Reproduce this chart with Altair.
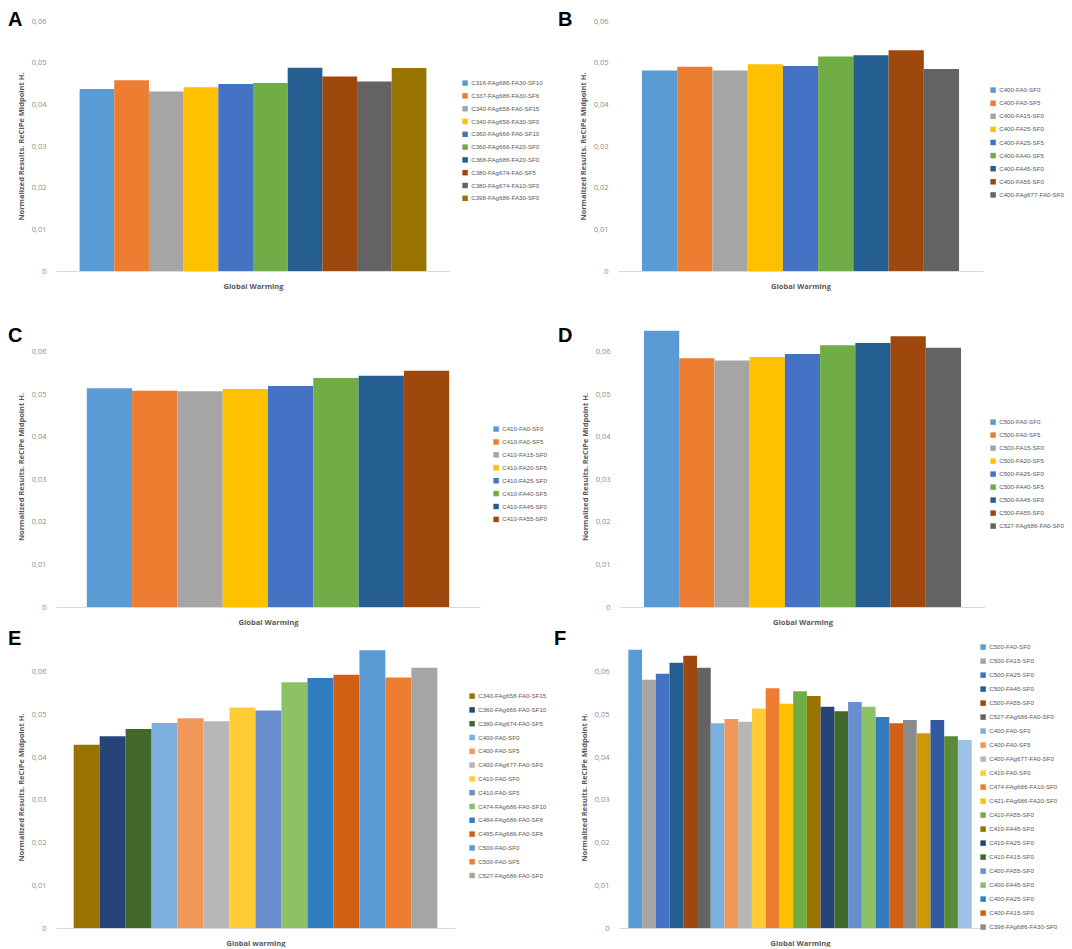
import altair as alt
import pandas as pd

# ---------------- data ----------------
A_names = ["C316-FAg686-FA30-SF10", "C337-FAg686-FA30-SF6", "C340-FAg658-FA0-SF15",
           "C340-FAg658-FA30-SF0", "C360-FAg666-FA0-SF10", "C360-FAg666-FA20-SF0",
           "C368-FAg686-FA20-SF0", "C380-FAg674-FA0-SF5", "C380-FAg674-FA10-SF0",
           "C398-FAg686-FA30-SF0"]
A_vals = [0.0437, 0.0458, 0.0431, 0.0441, 0.0449, 0.0451, 0.0488, 0.0467, 0.0455, 0.0487]

B_names = ["C400-FA0-SF0", "C400-FA0-SF5", "C400-FA15-SF0", "C400-FA25-SF0", "C400-FA25-SF5",
           "C400-FA40-SF5", "C400-FA45-SF0", "C400-FA55-SF0", "C400-FAg677-FA0-SF0"]
B_vals = [0.0481, 0.0490, 0.0481, 0.0496, 0.0492, 0.0515, 0.0518, 0.0530, 0.0485]

C_names = ["C410-FA0-SF0", "C410-FA0-SF5", "C410-FA15-SF0", "C410-FA20-SF5", "C410-FA25-SF0",
           "C410-FA40-SF5", "C410-FA45-SF0", "C410-FA55-SF0"]
C_vals = [0.0514, 0.0508, 0.0507, 0.0512, 0.0519, 0.0538, 0.0543, 0.0555]

D_names = ["C500-FA0-SF0", "C500-FA0-SF5", "C500-FA15-SF0", "C500-FA20-SF5", "C500-FA25-SF0",
           "C500-FA40-SF5", "C500-FA45-SF0", "C500-FA55-SF0", "C527-FAg686-FA0-SF0"]
D_vals = [0.0649, 0.0584, 0.0579, 0.0587, 0.0594, 0.0615, 0.0620, 0.0636, 0.0609]

E_names = ["C340-FAg658-FA0-SF15", "C360-FAg666-FA0-SF10", "C380-FAg674-FA0-SF5", "C400-FA0-SF0",
           "C400-FA0-SF5", "C400-FAg677-FA0-SF0", "C410-FA0-SF0", "C410-FA0-SF5",
           "C474-FAg686-FA0-SF10", "C484-FAg686-FA0-SF8", "C495-FAg686-FA0-SF6", "C500-FA0-SF0",
           "C500-FA0-SF5", "C527-FAg686-FA0-SF0"]
E_vals = [0.0429, 0.0449, 0.0466, 0.0480, 0.0491, 0.0484, 0.0516, 0.0509, 0.0575, 0.0585,
          0.0593, 0.0650, 0.0586, 0.0609]

F_names = ["C500-FA0-SF0", "C500-FA15-SF0", "C500-FA25-SF0", "C500-FA45-SF0", "C500-FA55-SF0",
           "C527-FAg686-FA0-SF0", "C400-FA0-SF0", "C400-FA0-SF5", "C400-FAg677-FA0-SF0",
           "C410-FA0-SF0", "C474-FAg686-FA10-SF0", "C421-FAg686-FA20-SF0", "C410-FA55-SF0",
           "C410-FA45-SF0", "C410-FA25-SF0", "C410-FA15-SF0", "C400-FA55-SF0", "C400-FA45-SF0",
           "C400-FA25-SF0", "C400-FA15-SF0", "C398-FAg686-FA30-SF0",
           "C380-FAg674-FA10-SF0", "C368-FAg686-FA20-SF0", "C360-FAg666-FA20-SF0",
           "C316-FAg686-FA30-SF10"]
F_vals = [0.0651, 0.0581, 0.0595, 0.0621, 0.0637, 0.0609, 0.0479, 0.0489, 0.0483, 0.0514,
          0.0561, 0.0525, 0.0554, 0.0543, 0.0518, 0.0507, 0.0529, 0.0518, 0.0494, 0.0479,
          0.0487, 0.0456, 0.0487, 0.0449, 0.0440]
F_legend_count = 21

office = ["#5B9BD5", "#ED7D31", "#A5A5A5", "#FFC000", "#4472C4", "#70AD47",
          "#255E91", "#9E480E", "#636363", "#997300"]
E_colors = ["#997300", "#264478", "#43682B", "#7CAFDD", "#F1975A", "#B7B7B7", "#FFCD33",
            "#698ED0", "#8CC168", "#327DC2", "#D26012", "#5B9BD5", "#ED7D31", "#A5A5A5"]
F_colors = ["#5B9BD5", "#A5A5A5", "#4472C4", "#255E91", "#9E480E", "#636363", "#7CAFDD",
            "#F1975A", "#B7B7B7", "#FFCD33", "#ED7D31", "#FFC000", "#70AD47", "#997300",
            "#264478", "#43682B", "#698ED0", "#8CC168", "#327DC2", "#D26012", "#8B8B8B",
            "#CC9A00", "#335AA1", "#5A8A39", "#9DC3E6"]

y_ticks = [0, 0.01, 0.02, 0.03, 0.04, 0.05, 0.06]
y_title = "Normalized Results. ReCiPe Midpoint H."

FONT = "Open Sans"
LEG_FONT = "Liberation Sans"


def panel(letter, names, vals, colors, width, height, ymax, xtitle,
          legend_x, legend_y, row_pad, letter_x, letter_y, legend_values=None):
    df = pd.DataFrame({"mix": names, "value": vals})
    leg_kw = dict(orient="none", legendX=legend_x, legendY=legend_y, title=None,
                  symbolType="square", symbolSize=30, symbolStrokeWidth=0,
                  labelFontSize=6.2, labelColor="#595959", labelFont=LEG_FONT,
                  labelOffset=3, labelLimit=250, rowPadding=row_pad)
    if legend_values is not None:
        leg_kw["values"] = legend_values
    bars = alt.Chart(df).mark_bar(strokeWidth=0).encode(
        x=alt.X("mix:N", sort=names,
                scale=alt.Scale(paddingInner=0, paddingOuter=0.68),
                axis=alt.Axis(labels=False, ticks=False, title=xtitle,
                              domainColor="#D9D9D9", domainWidth=1,
                              titleFontSize=7.5, titleFontWeight="bold",
                              titleColor="#595959", titleFont=FONT,
                              titlePadding=11)),
        y=alt.Y("value:Q", scale=alt.Scale(domain=[0, ymax], nice=False),
                axis=alt.Axis(values=y_ticks, grid=False, domain=False, ticks=False,
                              tickSize=0, labelPadding=10, labelFontSize=7.5,
                              labelColor="#8C8C8C", labelFont=FONT,
                              labelExpr="datum.value == 0 ? '0' : replace(format(datum.value, '.2f'), '.', ',')",
                              title=y_title, titleFontSize=7.5, titleFontWeight="bold",
                              titleColor="#595959", titleFont=FONT, titlePadding=6)),
        color=alt.Color("mix:N", sort=names,
                        scale=alt.Scale(domain=names, range=colors),
                        legend=alt.Legend(**leg_kw)),
    )
    tag = alt.Chart(pd.DataFrame({"letter": [letter]})).mark_text(
        align="left", baseline="top", font="Liberation Sans", fontSize=20,
        fontWeight="bold", color="#000000",
    ).encode(text="letter:N", x=alt.value(letter_x), y=alt.value(letter_y))
    return alt.layer(bars, tag).properties(width=width, height=height)


pA = panel("A", A_names, A_vals, office, 394, 250, 0.06, "Global Warming",
           406, 59, 5.8, -48, -11)
pB = panel("B", B_names, B_vals, office[:9], 365, 250, 0.06, "Global Warming",
           372, 66, 6.1, -60, -11)
pC = panel("C", C_names, C_vals, office[:8], 424, 281, 0.066, "Global Warming",
           437, 100, 5.9, -48, 0)
pD = panel("D", D_names, D_vals, office[:9], 365, 281, 0.066, "Global Warming",
           370, 93, 6.0, -62, 0)
pE = panel("E", E_names, E_vals, E_colors, 399, 282, 0.066, "Global warming",
           413, 47, 6.8, -48, -17)
pF = panel("F", F_names, F_vals, F_colors, 362, 282, 0.066, "Global Warming",
           361, -2, 7.0, -65, -17, legend_values=F_names[:F_legend_count])


def row(a, b, spacing):
    return alt.hconcat(a, b, spacing=spacing, bounds="flush").resolve_scale(
        x="independent", y="independent", color="independent").resolve_legend(
        color="independent")


lower = alt.vconcat(row(pC, pD, 140), row(pE, pF, 164), spacing=3).resolve_scale(
    x="independent", y="independent", color="independent").resolve_legend(color="independent")

chart = alt.vconcat(
    row(pA, pB, 168),
    lower,
    spacing=36,
).resolve_scale(
    x="independent", y="independent", color="independent"
).resolve_legend(color="independent").properties(
    padding={"left": 0, "top": 2, "right": 0, "bottom": 0},
    background="white",
).configure_view(stroke=None)

chart.save("out.html", embed_options={"renderer": "svg", "actions": False})
